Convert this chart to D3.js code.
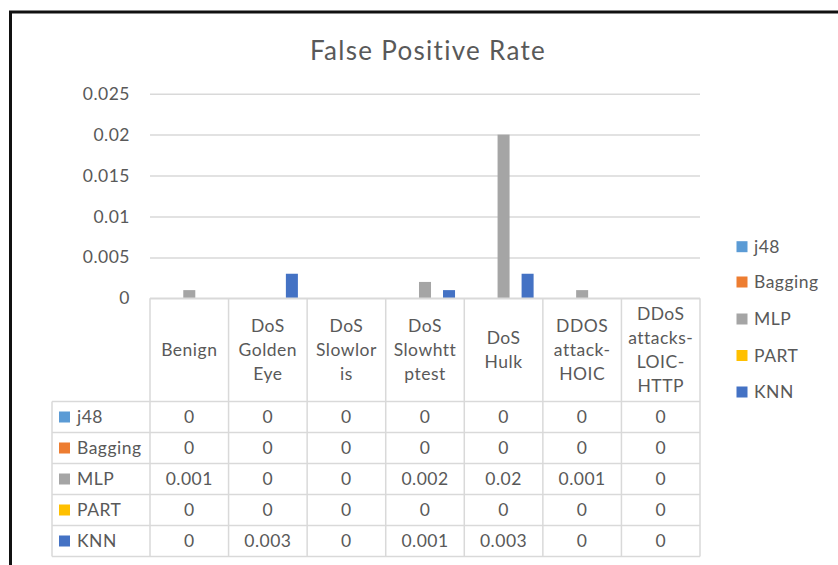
<!DOCTYPE html>
<html>
<head>
<meta charset="utf-8">
<script src="https://cdn.jsdelivr.net/npm/d3@7"></script>
<style>
  html, body { margin: 0; padding: 0; background: #fff; }
  svg text { font-family: Lato, "Open Sans", sans-serif; fill: #595959; letter-spacing: 0.5px; }
  svg text.title { letter-spacing: 1.3px; }
</style>
</head>
<body>
<svg id="chart" width="838" height="565"></svg>
<script>
// Attack categories (header lines of the data table)
const categories = ["Benign", "DoS Golden Eye", "DoS Slowloris", "DoS Slowhttptest", "DoS Hulk", "DDOS attack-HOIC", "DDoS attacks-LOIC-HTTP"];
const categoryLines = [
  ["Benign"],
  ["DoS", "Golden", "Eye"],
  ["DoS", "Slowlor", "is"],
  ["DoS", "Slowhtt", "ptest"],
  ["DoS", "Hulk"],
  ["DDOS", "attack-", "HOIC"],
  ["DDoS", "attacks-", "LOIC-", "HTTP"]
];

// Classifiers and their false positive rates per category
const seriesNames = ["j48", "Bagging", "MLP", "PART", "KNN"];
const j48     = [0, 0, 0, 0, 0, 0, 0];
const bagging = [0, 0, 0, 0, 0, 0, 0];
const mlp     = [0.001, 0, 0, 0.002, 0.02, 0.001, 0];
const part    = [0, 0, 0, 0, 0, 0, 0];
const knn     = [0, 0.003, 0, 0.001, 0.003, 0, 0];
const seriesColors = ["#5B9BD5", "#ED7D31", "#A5A5A5", "#FFC000", "#4472C4"];

const yTicks = [0, 0.005, 0.01, 0.015, 0.02, 0.025];
const yTickLabels = ["0", "0.005", "0.01", "0.015", "0.02", "0.025"];

const series = seriesNames.map((name, i) => ({
  name, color: seriesColors[i], values: [j48, bagging, mlp, part, knn][i]
}));

const svg = d3.select("#chart");
const gridColor = "#D9D9D9";
const fontSize = "17.5px";

// Chart frame
svg.append("path")
  .attr("d", "M10.5,565 L10.5,12 L838,12")
  .attr("fill", "none").attr("stroke", "#111").attr("stroke-width", 3);

// Title
svg.append("text")
  .attr("class", "title")
  .attr("x", 428).attr("y", 60)
  .attr("text-anchor", "middle")
  .style("font-size", "26px")
  .text("False Positive Rate");

// Scales
const plotLeft = 150, plotRight = 700, plotTop = 93.7, plotBottom = 298.3;
const x0 = d3.scaleBand().domain(categories).range([plotLeft, plotRight]).padding(0);
const x1 = d3.scaleBand().domain(seriesNames).range([0, x0.bandwidth()]).paddingInner(0).paddingOuter(0.77);
const y = d3.scaleLinear().domain([0, 0.025]).range([plotBottom, plotTop]);

// Gridlines and y-axis labels
const yAxis = d3.axisLeft(y).tickValues(yTicks).tickSize(-(plotRight - plotLeft))
  .tickFormat((d, i) => yTickLabels[i]).tickPadding(20);
const gy = svg.append("g").attr("transform", `translate(${plotLeft},0)`).call(yAxis);
gy.select(".domain").remove();
gy.selectAll(".tick line").attr("stroke", gridColor).attr("stroke-width", 1.5);
gy.selectAll(".tick text").style("font-size", fontSize).attr("fill", "#595959")
  .attr("font-family", null);

// Bars
const groups = svg.append("g").selectAll("g")
  .data(series).join("g").attr("fill", d => d.color);
groups.selectAll("rect")
  .data(d => d.values.map((v, i) => ({ name: d.name, cat: categories[i], v })))
  .join("rect")
  .attr("x", d => x0(d.cat) + x1(d.name))
  .attr("width", x1.bandwidth())
  .attr("y", d => y(d.v))
  .attr("height", d => y(0) - y(d.v));

// Data table
const headerBottom = 401.5, rowH = 31, labelLeft = 52;
const table = svg.append("g");
const lineAttrs = sel => sel.attr("stroke", gridColor).attr("stroke-width", 1.5);

// header cells
categories.forEach((c, i) => {
  const cx = x0(c) + x0.bandwidth() / 2;
  const lines = categoryLines[i];
  const lh = 24;
  const midY = (plotBottom + headerBottom) / 2;
  const t = table.append("text").attr("text-anchor", "middle").style("font-size", fontSize);
  lines.forEach((ln, j) => {
    t.append("tspan").attr("x", cx)
      .attr("y", midY + (j - (lines.length - 1) / 2) * lh)
      .attr("dy", "0.35em").text(ln);
  });
});

// vertical lines
const xs = categories.map(c => x0(c)).concat([plotRight]);
xs.forEach(xv => {
  table.append("line").attr("x1", xv).attr("x2", xv)
    .attr("y1", plotBottom).attr("y2", headerBottom + rowH * series.length).call(lineAttrs);
});
table.append("line").attr("x1", labelLeft).attr("x2", labelLeft)
  .attr("y1", headerBottom).attr("y2", headerBottom + rowH * series.length).call(lineAttrs);
// horizontal lines
table.append("line").attr("x1", plotLeft).attr("x2", plotRight)
  .attr("y1", plotBottom).attr("y2", plotBottom).call(lineAttrs);
for (let r = 0; r <= series.length; r++) {
  const yy = headerBottom + r * rowH;
  table.append("line").attr("x1", labelLeft).attr("x2", plotRight)
    .attr("y1", yy).attr("y2", yy).call(lineAttrs);
}

// row labels and values
series.forEach((s, r) => {
  const cy = headerBottom + r * rowH + rowH / 2;
  table.append("rect").attr("x", 59).attr("y", cy - 5.5).attr("width", 11).attr("height", 11).attr("fill", s.color);
  table.append("text").attr("x", 77).attr("y", cy).attr("dy", "0.35em").style("font-size", fontSize).text(s.name);
  s.values.forEach((v, i) => {
    table.append("text").attr("x", x0(categories[i]) + x0.bandwidth() / 2).attr("y", cy)
      .attr("dy", "0.35em").attr("text-anchor", "middle").style("font-size", fontSize).text(String(v));
  });
});

// Legend
const legendY = [246.7, 282, 319, 355.5, 392];
const legend = svg.append("g");
series.forEach((s, i) => {
  legend.append("rect").attr("x", 736.5).attr("y", legendY[i] - 5.5).attr("width", 11).attr("height", 11).attr("fill", s.color);
  legend.append("text").attr("x", 754).attr("y", legendY[i]).attr("dy", "0.35em").style("font-size", fontSize).text(s.name);
});
</script>
</body>
</html>
